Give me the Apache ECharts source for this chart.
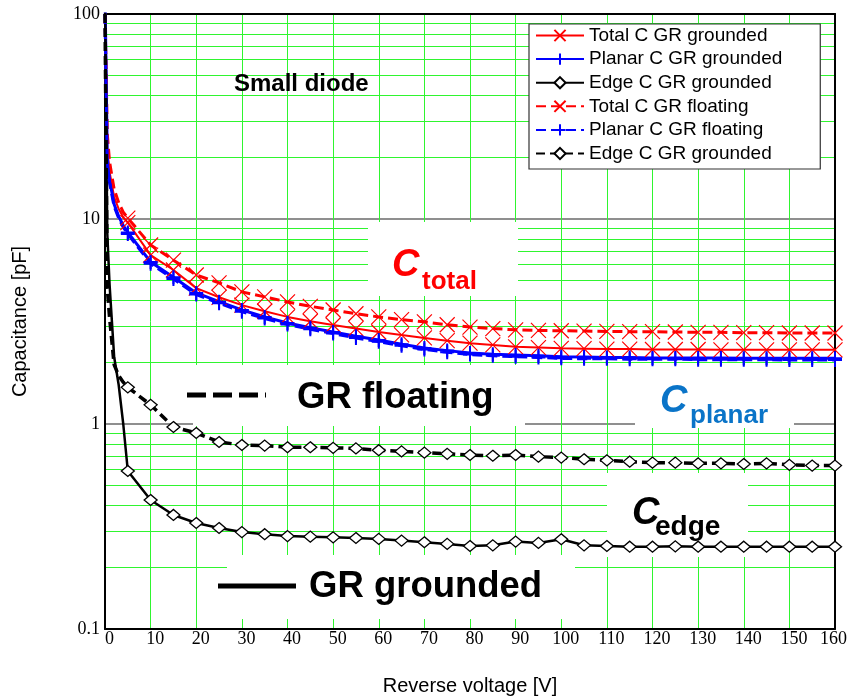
<!DOCTYPE html>
<html>
<head>
<meta charset="utf-8">
<script src="https://cdn.jsdelivr.net/npm/echarts@6/dist/echarts.min.js"></script>
<style>
  html, body { margin: 0; padding: 0; background: #fff; }
  #chart { width: 850px; height: 696px; }
</style>
</head>
<body>
<div id="chart"></div>
<script>
// Reverse voltage [V]
const voltage = [0, 0.5, 1, 2, 3, 4, 5, 10, 15, 20, 25, 30, 35, 40, 45, 50, 55, 60, 65, 70, 75,
  80, 85, 90, 95, 100, 105, 110, 115, 120, 125, 130, 135, 140, 145, 150, 155, 160];

// Capacitance [pF], guard ring grounded
const totalGrounded = [130, 22, 17, 12.8, 11.2, 10.2, 9.6, 6.67, 5.64, 4.6, 4.15, 3.8, 3.55, 3.33, 3.17,
  3.04, 2.92, 2.81, 2.72, 2.63, 2.55, 2.48, 2.43, 2.38, 2.36, 2.34, 2.33, 2.32, 2.32, 2.31, 2.31,
  2.31, 2.30, 2.30, 2.30, 2.30, 2.30, 2.30];
const planarGrounded = [130, 20, 15.5, 11.8, 10.3, 9.3, 8.6, 6.17, 5.2, 4.36, 3.95, 3.6, 3.33, 3.11, 2.95,
  2.81, 2.68, 2.57, 2.45, 2.35, 2.28, 2.22, 2.19, 2.17, 2.15, 2.13, 2.12, 2.11, 2.11, 2.10, 2.10,
  2.10, 2.10, 2.09, 2.09, 2.09, 2.09, 2.09];
const edgeGrounded = [130, 8.5, 4.8, 2.13, 1.55, 1.0, 0.59, 0.426, 0.36, 0.329, 0.311, 0.297, 0.29, 0.284, 0.282,
  0.28, 0.278, 0.275, 0.27, 0.265, 0.26, 0.254, 0.256, 0.267, 0.263, 0.274, 0.256, 0.254, 0.252, 0.252, 0.253,
  0.252, 0.252, 0.252, 0.252, 0.252, 0.252, 0.252];

// Capacitance [pF], guard ring floating
const totalFloating = [100, 26, 19, 14, 12, 10.8, 10.1, 7.47, 6.3, 5.33, 4.88, 4.41, 4.17, 3.94, 3.75,
  3.6, 3.45, 3.33, 3.23, 3.15, 3.05, 2.97, 2.92, 2.88, 2.86, 2.85, 2.84, 2.83, 2.82, 2.82, 2.81,
  2.80, 2.80, 2.79, 2.79, 2.78, 2.78, 2.78];
const planarFloating = [100, 19, 15, 11.5, 10.1, 9.1, 8.45, 6.05, 5.1, 4.28, 3.88, 3.53, 3.27, 3.06, 2.9,
  2.76, 2.63, 2.52, 2.41, 2.31, 2.24, 2.18, 2.15, 2.13, 2.11, 2.09, 2.08, 2.08, 2.07, 2.07, 2.07,
  2.06, 2.06, 2.06, 2.06, 2.05, 2.05, 2.05];
const edgeFloating = [100, 4.6, 3.3, 1.95, 1.72, 1.6, 1.51, 1.24, 0.967, 0.904, 0.817, 0.79, 0.785, 0.77, 0.77,
  0.765, 0.76, 0.745, 0.735, 0.725, 0.715, 0.706, 0.70, 0.706, 0.693, 0.686, 0.673, 0.665, 0.655, 0.648, 0.648,
  0.643, 0.643, 0.638, 0.643, 0.632, 0.627, 0.627];

const seriesNames = ['Total C GR grounded', 'Planar C GR grounded', 'Edge C GR grounded',
  'Total C GR floating', 'Planar C GR floating', 'Edge C GR floating'];
const legendLabels = ['Total C GR grounded', 'Planar C GR grounded', 'Edge C GR grounded',
  'Total C GR floating', 'Planar C GR floating', 'Edge C GR grounded'];

const xTicks = { min: 0, max: 160, step: 10 };
const yTicks = [0.1, 1, 10, 100];

const GREEN = '#2ff52f';
const SANS = '"Liberation Sans", Arial, sans-serif';
const SERIF = '"Liberation Serif", "Times New Roman", serif';

const CROSS = 'path://M0,0L10,10M10,0L0,10';
const PLUS = 'path://M5,0L5,10M0,5L10,5';

// markers sit on every 5 V step; intermediate points only shape the curve
function toData(values) {
  return voltage.map((v, i) => {
    const item = { value: [v, values[i]] };
    if (v === 0 || v % 5 !== 0) item.symbol = 'none';
    return item;
  });
}

// log-scale minor gridlines at 2..9 of every decade
const minorLevels = [];
[0.1, 1, 10].forEach(d => { for (let k = 2; k <= 9; k++) minorLevels.push(+(d * k).toPrecision(3)); });

function curve(name, values, color, dashed, width, symbol, symbolSize, symbolStyle) {
  return {
    name, type: 'line', z: 3, data: toData(values),
    symbol, symbolSize, showSymbol: true, showAllSymbol: true,
    lineStyle: { color, width, type: dashed || 'solid' },
    itemStyle: symbolStyle,
    emphasis: { disabled: true },
    clip: true
  };
}

const series = [
  curve(seriesNames[0], totalGrounded, '#ff0000', null, 2, CROSS, 15,
    { color: '#ff0000', borderColor: '#ff0000', borderWidth: 1.2 }),
  curve(seriesNames[1], planarGrounded, '#0000ff', null, 3, PLUS, 14,
    { color: '#0000ff', borderColor: '#0000ff', borderWidth: 2 }),
  curve(seriesNames[2], edgeGrounded, '#000000', null, 2.5, 'diamond', [13, 11],
    { color: '#ffffff', borderColor: '#000000', borderWidth: 1.3 }),
  curve(seriesNames[3], totalFloating, '#ff0000', [10, 5], 3, CROSS, 15,
    { color: '#ff0000', borderColor: '#ff0000', borderWidth: 1.2 }),
  curve(seriesNames[4], planarFloating, '#0000ff', [10, 5], 3, PLUS, 14,
    { color: '#0000ff', borderColor: '#0000ff', borderWidth: 2 }),
  curve(seriesNames[5], edgeFloating, '#000000', [9, 5], 3.5, 'diamond', [13, 11],
    { color: '#ffffff', borderColor: '#000000', borderWidth: 1.3 }),
  {
    name: 'grid-minor', type: 'line', data: [], z: 0, silent: true,
    markLine: {
      z: 0, silent: true, animation: false, symbol: ['none', 'none'],
      label: { show: false },
      lineStyle: { color: GREEN, width: 1, type: 'solid' },
      emphasis: { disabled: true },
      data: minorLevels.map(v => ({ yAxis: v }))
    }
  }
];

// white label panels that mask the grid behind the annotations
const panels = [
  [368, 222, 518, 296], [193, 365, 525, 426], [635, 365, 794, 428],
  [607, 473, 748, 557], [227, 555, 575, 619]
];

function label(text, x, y, size, color, italic) {
  return {
    type: 'text', z: 2,
    style: {
      text, x, y, fill: color, align: 'left', verticalAlign: 'middle',
      font: (italic ? 'italic ' : '') + 'bold ' + size + 'px ' + SANS
    }
  };
}

const graphics = panels.map(p => ({
  type: 'rect', z: 1, silent: true,
  shape: { x: p[0], y: p[1], width: p[2] - p[0], height: p[3] - p[1] },
  style: { fill: '#ffffff' }
})).concat([
  label('Small diode', 234, 84, 24, '#000'),
  label('C', 392, 266, 38, '#ff0000', true),
  label('total', 422, 282, 26, '#ff0000'),
  label('C', 660, 402, 38, '#0a74c8', true),
  label('planar', 690, 416, 26, '#0a74c8'),
  label('C', 632, 514, 38, '#000', true),
  label('edge', 655, 527, 28, '#000'),
  label('GR floating', 297, 398, 36.5, '#000'),
  label('GR grounded', 309, 587, 36.5, '#000'),
  { type: 'line', z: 2, shape: { x1: 187, y1: 395, x2: 266, y2: 395 },
    style: { stroke: '#000', lineWidth: 5, lineDash: [19, 7] } },
  { type: 'line', z: 2, shape: { x1: 218, y1: 586, x2: 296, y2: 586 },
    style: { stroke: '#000', lineWidth: 5 } }
]);

const chart = echarts.init(document.getElementById('chart'), null, { renderer: 'canvas' });
chart.setOption({
  animation: false,
  backgroundColor: '#ffffff',
  grid: { left: 105, right: 15, top: 14, bottom: 67, containLabel: false, outerBoundsMode: 'none' },
  legend: {
    data: seriesNames,
    formatter: name => legendLabels[seriesNames.indexOf(name)],
    orient: 'vertical', left: 529, top: 24, z: 10,
    padding: [2, 38, 6, 6], itemGap: 4.6, itemWidth: 48, itemHeight: 14,
    backgroundColor: '#ffffff', borderColor: '#333', borderWidth: 1.2,
    selectedMode: false,
    textStyle: { fontFamily: SANS, fontSize: 19, color: '#000' }
  },
  xAxis: [{
    type: 'value', min: xTicks.min, max: xTicks.max, interval: xTicks.step,
    name: 'Reverse voltage [V]', nameLocation: 'middle', nameGap: 47,
    nameTextStyle: { fontFamily: SANS, fontSize: 20, color: '#000' },
    axisLine: { show: true, onZero: false, lineStyle: { color: '#000', width: 2 } },
    axisTick: { show: false },
    axisLabel: {
      fontFamily: SERIF, fontSize: 18, color: '#000', margin: 1, padding: [0, 0, 0, 9],
      // the last label is pulled back inside the canvas edge
      formatter: v => (v === xTicks.max ? '{last|' + v + '}' : String(v)),
      rich: { last: { fontFamily: SERIF, fontSize: 18, color: '#000', padding: [0, 12, 0, 0] } }
    },
    splitLine: { show: true, lineStyle: { color: GREEN, width: 1 } }
  }, {
    type: 'value', position: 'top', min: xTicks.min, max: xTicks.max,
    axisLine: { show: true, onZero: false, lineStyle: { color: '#000', width: 2 } },
    axisTick: { show: false }, axisLabel: { show: false }, splitLine: { show: false }
  }],
  yAxis: [{
    type: 'log', logBase: 10, min: yTicks[0], max: yTicks[yTicks.length - 1],
    name: 'Capacitance [pF]', nameLocation: 'middle', nameGap: 75, nameRotate: 90,
    nameTextStyle: { fontFamily: SANS, fontSize: 20, color: '#000' },
    axisLine: { show: true, onZero: false, lineStyle: { color: '#000', width: 2 } },
    axisTick: { show: false },
    axisLabel: {
      fontFamily: SERIF, fontSize: 18, color: '#000', margin: 5,
      formatter: v => String(yTicks.find(t => Math.abs(t - v) / t < 1e-6) ?? v)
    },
    splitLine: { show: true, lineStyle: { color: '#6a6a6a', width: 1.5 } }
  }, {
    type: 'log', logBase: 10, min: yTicks[0], max: yTicks[yTicks.length - 1], position: 'right',
    axisLine: { show: true, onZero: false, lineStyle: { color: '#000', width: 2 } },
    axisTick: { show: false }, axisLabel: { show: false }, splitLine: { show: false }
  }],
  tooltip: { show: false },
  series,
  graphic: graphics
});
</script>
</body>
</html>
